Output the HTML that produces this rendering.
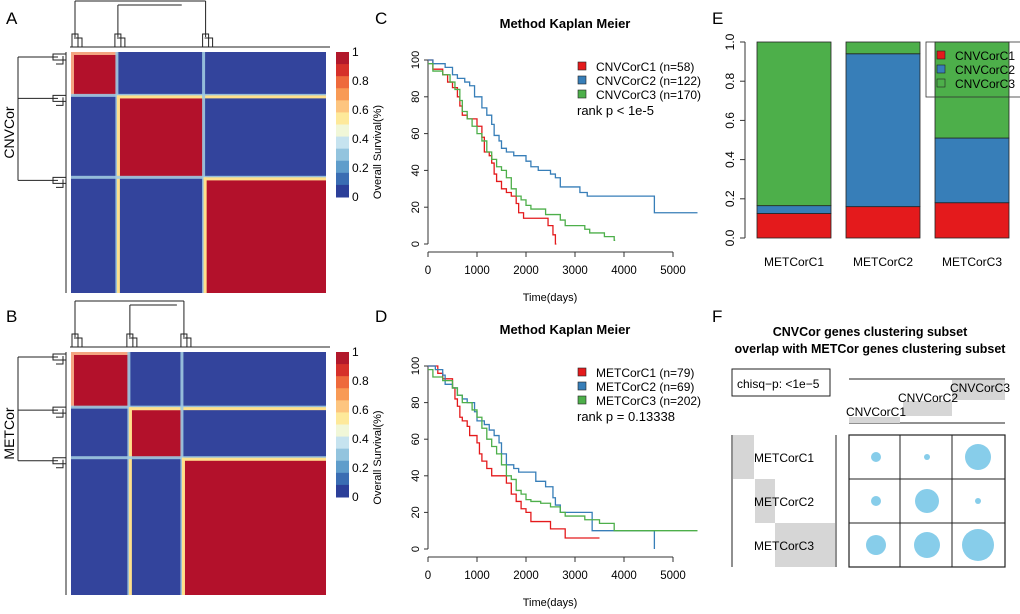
<!DOCTYPE html>
<html><head><meta charset="utf-8"><style>
body{margin:0;background:#fff;}
svg{display:block;font-family:"Liberation Sans",Arial,sans-serif;}
</style></head><body>
<svg id="fig" width="1020" height="614" viewBox="0 0 1020 614" xmlns="http://www.w3.org/2000/svg"></svg>
<script>
// ---------- DATA ----------
const heatA_splits = [0.18, 0.52];   // cluster boundaries (fraction of samples)
const heatB_splits = [0.227, 0.435];
const colorbarTicks = ["1","0.8","0.6","0.4","0.2","0"];
const colorbarColors = ["#b2182b","#d6302a","#ee6a3c","#f89a55","#fdc57f","#fee99a","#f1f7d8","#c6e3ef","#93c4de","#5f9dcb","#3a6db3","#2c3f99"];
const kmTicksX = [0,1000,2000,3000,4000,5000];
const kmTicksY = [0,20,40,60,80,100];
const kmC_red = [[0,100],[100,95],[300,92],[400,88],[500,85],[600,80],[650,75],[700,70],[800,68],[950,68],[1000,64],[1100,58],[1150,50],[1250,48],[1300,44],[1350,38],[1400,34],[1500,30],[1600,28],[1700,26],[1800,22],[1850,17],[1950,14],[2450,10],[2550,5],[2600,0],[2620,0]];
const kmC_blue = [[0,100],[100,98],[350,96],[500,92],[600,90],[750,88],[850,86],[950,80],[1100,74],[1200,70],[1300,65],[1350,59],[1450,56],[1500,52],[1600,50],[1750,48],[2000,45],[2100,42],[2250,40],[2500,38],[2600,36],[2700,31],[3100,28],[3250,26],[4620,17],[5500,17]];
const kmC_green = [[0,98],[100,94],[300,92],[450,88],[550,84],[650,78],[700,72],[800,68],[900,64],[1000,60],[1100,56],[1200,50],[1300,46],[1400,42],[1500,40],[1600,36],[1700,30],[1800,26],[1900,24],[2000,21],[2100,19],[2400,16],[2700,13],[2800,10],[3200,8],[3300,6],[3600,4],[3800,2],[3820,2]];
const kmD_red = [[0,100],[200,96],[300,93],[500,88],[550,82],[600,78],[650,72],[700,70],[800,67],[850,62],[1000,58],[1050,52],[1100,48],[1200,44],[1300,40],[1500,40],[1600,36],[1700,30],[1800,26],[1900,22],[2000,20],[2100,15],[2500,11],[2800,6],[3500,6]];
const kmD_blue = [[0,100],[150,98],[300,95],[350,90],[500,88],[600,84],[700,82],[800,80],[950,75],[1000,70],[1150,68],[1250,65],[1350,62],[1450,58],[1500,52],[1600,46],[1750,44],[1850,42],[2200,37],[2400,34],[2550,28],[2600,24],[2700,20],[3350,10],[4620,0],[4620,0]];
const kmD_green = [[0,98],[100,94],[300,92],[500,88],[600,84],[700,80],[900,76],[1000,72],[1100,66],[1200,60],[1300,56],[1400,52],[1500,46],[1600,40],[1700,38],[1800,32],[1900,30],[2000,27],[2100,26],[2300,25],[2500,23],[2700,20],[2800,18],[3200,16],[3500,14],[3800,10],[5500,10]];
const barCats = ["METCorC1","METCorC2","METCorC3"];
const barRed = [0.125,0.16,0.18];
const barBlue = [0.04,0.78,0.33];
const barGreen = [0.835,0.06,0.49];
const barTicks = ["0.0","0.2","0.4","0.6","0.8","1.0"];
const ovRows = ["METCorC1","METCorC2","METCorC3"];
const ovCols = ["CNVCorC1","CNVCorC2","CNVCorC3"];
const ovSizes = [[5,3,13],[5,12,3],[10,13,16]];

// ---------- helpers ----------
const NS="http://www.w3.org/2000/svg";
const svg=document.getElementById('fig');
function el(tag,attrs,parent,txt){const e=document.createElementNS(NS,tag);for(const k in attrs)e.setAttribute(k,attrs[k]);if(txt!==undefined)e.textContent=txt;(parent||svg).appendChild(e);return e;}
function grp(name){const g=el('g',{});return g;}
const RED="#e41a1c",BLUE="#377eb8",GREEN="#4daf4a",HB="#33449c",HR="#b3112b";

// ---------- panel labels ----------
[["A",6,24],["B",6,322],["C",375,24],["D",375,322],["E",712,24],["F",712,322]].forEach(p=>{
 const t=el('text',{x:p[1],y:p[2],'font-size':17},svg,p[0]);
 
 
});

// ---------- heatmaps ----------
function heatmap(y0,y1,splits,label,name,dendY0){
 const g=grp(name);
 const x0=71,x1=326,w=x1-x0,h=y1-y0;
 el('rect',{x:x0,y:y0,width:w,height:h,fill:HB},g);
 const bx=[0,...splits,1];
 for(let i=0;i<3;i++){
  const rx=x0+bx[i]*w, ry=y0+bx[i]*h, rw=(bx[i+1]-bx[i])*w, rh=(bx[i+1]-bx[i])*h;
  const r=el('rect',{x:rx,y:ry,width:rw,height:rh,fill:HR},g);
  
  
  el('rect',{x:rx,y:ry,width:rw,height:3,fill:"#f4a582"},g);
  el('rect',{x:rx,y:ry,width:3,height:rh,fill:"#f4a582"},g);
 }
 splits.forEach(s=>{
  el('rect',{x:x0+s*w-1.5,y:y0,width:3,height:h,fill:"#9ecae1",opacity:0.9},g);
  el('rect',{x:x0,y:y0+s*h-1.5,width:w,height:3,fill:"#9ecae1",opacity:0.9},g);
  el('rect',{x:x0+s*w,y:y0+s*h,width:3,height:h*(1-s),fill:"#fee08b"},g);
  el('rect',{x:x0+s*w,y:y0+s*h,width:w*(1-s),height:3,fill:"#fee08b"},g);
 });
 const cb=grp(name+'-colorbar');
 const cbY0=y0,cbY1=y0+145,n=colorbarColors.length;
 colorbarColors.forEach((c,i)=>el('rect',{x:336,y:cbY0+i*(cbY1-cbY0)/n,width:13,height:(cbY1-cbY0)/n+0.5,fill:c},cb));
 colorbarTicks.forEach((t,i)=>el('text',{x:352,y:cbY0+i*(cbY1-cbY0)/5+4,'font-size':12},cb,t));
 const d=grp(name+'-dendrogram');
 const st={stroke:"#222",'stroke-width':1,fill:'none'};
 el('line',{x1:70,y1:y0-5,x2:330,y2:y0-5,...st},d);
 el('line',{x1:66,y1:y0,x2:66,y2:y1,...st},d);
 const cx=[x0+bx[0]*w+4, x0+bx[1]*w+1, x0+bx[2]*w+2];
 const cy=[y0+bx[0]*h+5, y0+bx[1]*h+3, y0+bx[2]*h+3];
 cx.forEach((c,i)=>{el('line',{x1:c,y1:dendY0+(i==1?4:0),x2:c,y2:y0-15,...st},d);el('path',{d:`M${c-3} ${y0-5}V${y0-18}h6V${y0-5}M${c-1} ${y0-14}h8v9`,...st},d);});
 el('line',{x1:cx[0],y1:dendY0,x2:cx[2],y2:dendY0,...st},d);
 el('line',{x1:cx[1],y1:dendY0+4,x2:(cx[1]+cx[2])/2+20,y2:dendY0+4,...st},d);
 cy.forEach((c,i)=>{el('line',{x1:18,y1:c,x2:58,y2:c,...st},d);el('path',{d:`M66 ${c-3}H53v6H66M63 ${c-1}v8H56`,...st},d);});
 el('line',{x1:18,y1:cy[0],x2:18,y2:cy[2],...st},d);
 const lt=el('text',{x:0,y:0,'font-size':14,transform:`translate(14,${(y0+y1)/2-40}) rotate(-90)`,'text-anchor':'middle'},svg,label);
 
 
}
heatmap(52,293,heatA_splits,"CNVCor","heatmap-a",1);
heatmap(352,595,heatB_splits,"METCor","heatmap-b",301);

// ---------- KM plots ----------
function km(yTop,yBot,axisY,series,legendNames,pText,name){
 const g=grp(name);
 const sx=t=>428+t/5000*245, sy=v=>yBot-(v/100)*(yBot-yTop);
 el('text',{x:565,y:yTop-32,'font-size':13,'font-weight':'bold','text-anchor':'middle'},g,"Method Kaplan Meier");
 el('line',{x1:428,y1:yTop,x2:428,y2:yBot,stroke:"#333"},g);
 kmTicksY.forEach(v=>{el('line',{x1:424,y1:sy(v),x2:428,y2:sy(v),stroke:"#333"},g);el('text',{x:0,y:0,'font-size':11,'text-anchor':'middle',transform:`translate(419,${sy(v)}) rotate(-90)`},g,String(v));});
 el('line',{x1:428,y1:axisY,x2:673,y2:axisY,stroke:"#333"},g);
 kmTicksX.forEach(v=>{el('line',{x1:sx(v),y1:axisY,x2:sx(v),y2:axisY+5,stroke:"#333"},g);el('text',{x:sx(v),y:axisY+22,'font-size':11.5,'text-anchor':'middle'},g,String(v));});
 el('text',{x:0,y:0,'font-size':11,'text-anchor':'middle',transform:`translate(381,${(yTop+yBot)/2}) rotate(-90)`},g,"Overall Survival(%)");
 el('text',{x:550,y:axisY+49,'font-size':11,'text-anchor':'middle'},g,"Time(days)");
 const cols=[RED,BLUE,GREEN];
 series.forEach((s,i)=>{
  let d=`M${sx(s[0][0])} ${sy(s[0][1])}`;
  for(let k=1;k<s.length;k++){d+=`H${sx(s[k][0])}V${sy(s[k][1])}`;}
  const p=el('path',{d,fill:'none',stroke:cols[i],'stroke-width':1.3},g);
  
  
 });
 legendNames.forEach((n,i)=>{
  const ly=yTop+7+i*14;
  const r=el('rect',{x:578,y:ly-5,width:8,height:8,fill:cols[i],stroke:"#222",'stroke-width':0.6},g);
  
  
  el('text',{x:596,y:ly+4,'font-size':12},g,n);
 });
 el('text',{x:577,y:yTop+55,'font-size':13},g,pText);
}
km(60,244,252,[kmC_red,kmC_blue,kmC_green],["CNVCorC1 (n=58)","CNVCorC2 (n=122)","CNVCorC3 (n=170)"],"rank p < 1e-5","km-plot-c");
km(366,549,557,[kmD_red,kmD_blue,kmD_green],["METCorC1 (n=79)","METCorC2 (n=69)","METCorC3 (n=202)"],"rank p = 0.13338","km-plot-d");

// ---------- stacked bar E ----------
(function(){
 const g=grp('stacked-bar-e');
 const y0=238,y1=42,sy=v=>y0-v*(y0-y1);
 const bx=[757,846,935],bw=74;
 el('line',{x1:745,y1:sy(0),x2:745,y2:sy(1),stroke:"#333"},g);
 barTicks.forEach((t,i)=>{const v=i*0.2;el('line',{x1:740,y1:sy(v),x2:745,y2:sy(v),stroke:"#333"},g);el('text',{x:0,y:0,'font-size':12,'text-anchor':'middle',transform:`translate(734,${sy(v)}) rotate(-90)`},g,t);});
 barCats.forEach((c,i)=>{
  let acc=0;
  [[barRed[i],RED,'red'],[barBlue[i],BLUE,'blue'],[barGreen[i],GREEN,'green']].forEach(s=>{
   const r=el('rect',{x:bx[i],y:sy(acc+s[0]),width:bw,height:s[0]*(y0-y1),fill:s[1],stroke:"#222",'stroke-width':0.8},g);
   
   
   acc+=s[0];
  });
  el('text',{x:bx[i]+bw/2,y:266,'font-size':12,'text-anchor':'middle'},g,c);
 });
 el('rect',{x:926,y:42,width:100,height:55,fill:'none',stroke:"#333",'stroke-width':0.8},g);
 [RED,BLUE,GREEN].forEach((c,i)=>{el('rect',{x:937,y:51+i*14,width:8,height:8,fill:c,stroke:"#222",'stroke-width':0.6},g);el('text',{x:955,y:60+i*14,'font-size':12},g,ovCols[i]);});
})();

// ---------- overlap F ----------
(function(){
 const g=grp('overlap-plot-f');
 el('text',{x:870,y:336,'font-size':12.5,'font-weight':'bold','text-anchor':'middle'},g,"CNVCor genes clustering subset");
 el('text',{x:870,y:353,'font-size':12.5,'font-weight':'bold','text-anchor':'middle'},g,"overlap with METCor genes clustering subset");
 el('rect',{x:732,y:369,width:98,height:27,fill:'none',stroke:"#222"},g);
 el('text',{x:737,y:388,'font-size':12},g,"chisq\u2212p: <1e\u22125");
 el('line',{x1:849,y1:379,x2:1005,y2:379,stroke:"#222"},g);
 el('line',{x1:849,y1:423,x2:1005,y2:423,stroke:"#222"},g);
 el('rect',{x:849,y:417,width:51,height:6,fill:"#d6d6d6"},g);
 el('rect',{x:903,y:401,width:49,height:15,fill:"#d6d6d6"},g);
 el('rect',{x:952,y:380,width:53,height:20,fill:"#d6d6d6"},g);
 [[846,416],[898,402],[950,392]].forEach((p,i)=>el('text',{x:p[0],y:p[1],'font-size':12},g,ovCols[i]));
 el('line',{x1:732,y1:435,x2:732,y2:567,stroke:"#222"},g);
 el('line',{x1:836,y1:435,x2:836,y2:567,stroke:"#222"},g);
 el('rect',{x:733,y:435,width:21,height:44,fill:"#d6d6d6"},g);
 el('rect',{x:755,y:479,width:20,height:44,fill:"#d6d6d6"},g);
 el('rect',{x:775,y:523,width:60,height:44,fill:"#d6d6d6"},g);
 ovRows.forEach((r,i)=>el('text',{x:754,y:462+i*44,'font-size':12},g,r));
 el('rect',{x:849,y:435,width:156,height:132,fill:'none',stroke:"#222",'stroke-width':1.2},g);
 [900,952].forEach(x=>el('line',{x1:x,y1:435,x2:x,y2:567,stroke:"#222"},g));
 [479,523].forEach(y=>el('line',{x1:849,y1:y,x2:1005,y2:y,stroke:"#222"},g));
 const cxs=[876,927,978],cys=[457,501,545];
 ovSizes.forEach((row,i)=>row.forEach((r,j)=>{
  const c=el('circle',{cx:cxs[j],cy:cys[i],r:r,fill:"#87cdea"},g);
  
  
 }));
})();
</script>
</body></html>
